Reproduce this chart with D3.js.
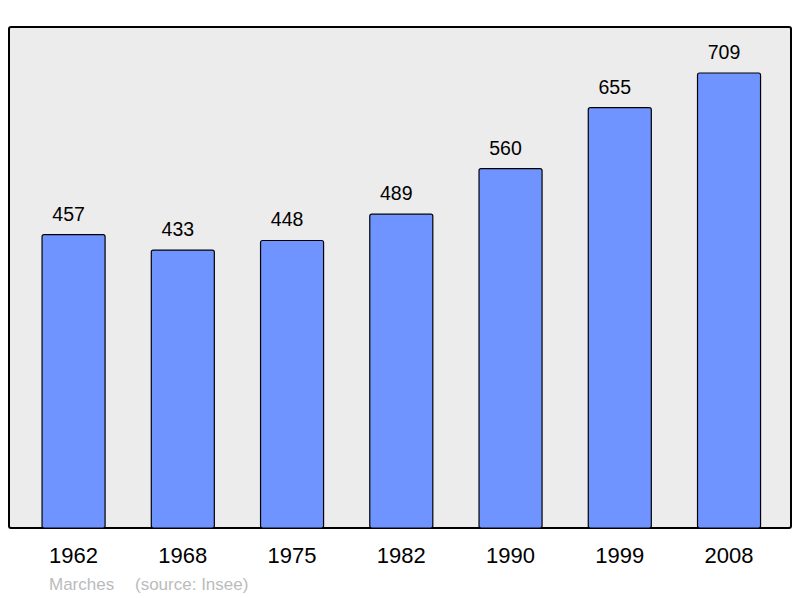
<!DOCTYPE html>
<html><head><meta charset="utf-8">
<script src="https://cdn.jsdelivr.net/npm/d3@7/dist/d3.min.js"></script>
<style>body{margin:0;background:#fff;} svg{display:block;}</style>
</head><body>
<svg id="c" width="800" height="598"></svg>
<script>
const years = ["1962","1968","1975","1982","1990","1999","2008"];
const population = [457,433,448,489,560,655,709];
const commune = "Marches";
const source = "(source: Insee)";

const svg = d3.select("#c");
const font = "Liberation Sans, Arial, sans-serif";
const panel = {x0: 9, y0: 27, x1: 791, y1: 528};

svg.append("rect").attr("x", panel.x0).attr("y", panel.y0)
  .attr("width", panel.x1 - panel.x0).attr("height", panel.y1 - panel.y0)
  .attr("rx", 2).attr("fill", "#ececec").attr("stroke", "#000").attr("stroke-width", 2);

const x = d3.scaleBand().domain(years).range([19, 783.6]).paddingInner(0.423).paddingOuter(0.211);
const y = d3.scaleLinear().domain([0, 709]).range([528, 73]);

svg.selectAll("rect.bar").data(years).join("rect").attr("class", "bar")
  .attr("x", d => x(d)).attr("width", x.bandwidth())
  .attr("y", (d, i) => y(population[i])).attr("height", (d, i) => y(0) - y(population[i]))
  .attr("rx", 2).attr("fill", "#7094ff").attr("stroke", "#000").attr("stroke-width", 1.2);

svg.selectAll("text.val").data(years).join("text").attr("class", "val")
  .attr("x", d => x(d) + x.bandwidth() / 2 - 5)
  .attr("y", (d, i) => y(population[i]) - 14)
  .attr("text-anchor", "middle").attr("font-family", font).attr("font-size", 19.5).attr("fill", "#000")
  .text((d, i) => population[i]);

const xAxis = d3.axisBottom(x).tickSize(0).tickPadding(0);
const ax = svg.append("g").attr("transform", "translate(0,563)").call(xAxis);
ax.select(".domain").remove();
ax.selectAll("text").attr("dy", 0).attr("font-family", font).attr("font-size", 22).attr("fill", "#000");

svg.append("text").attr("x", 49).attr("y", 590).attr("font-family", font).attr("font-size", 17)
  .attr("fill", "#bbb").text(commune);
svg.append("text").attr("x", 135).attr("y", 590).attr("font-family", font).attr("font-size", 17)
  .attr("fill", "#bbb").text(source);
</script>
</body></html>
